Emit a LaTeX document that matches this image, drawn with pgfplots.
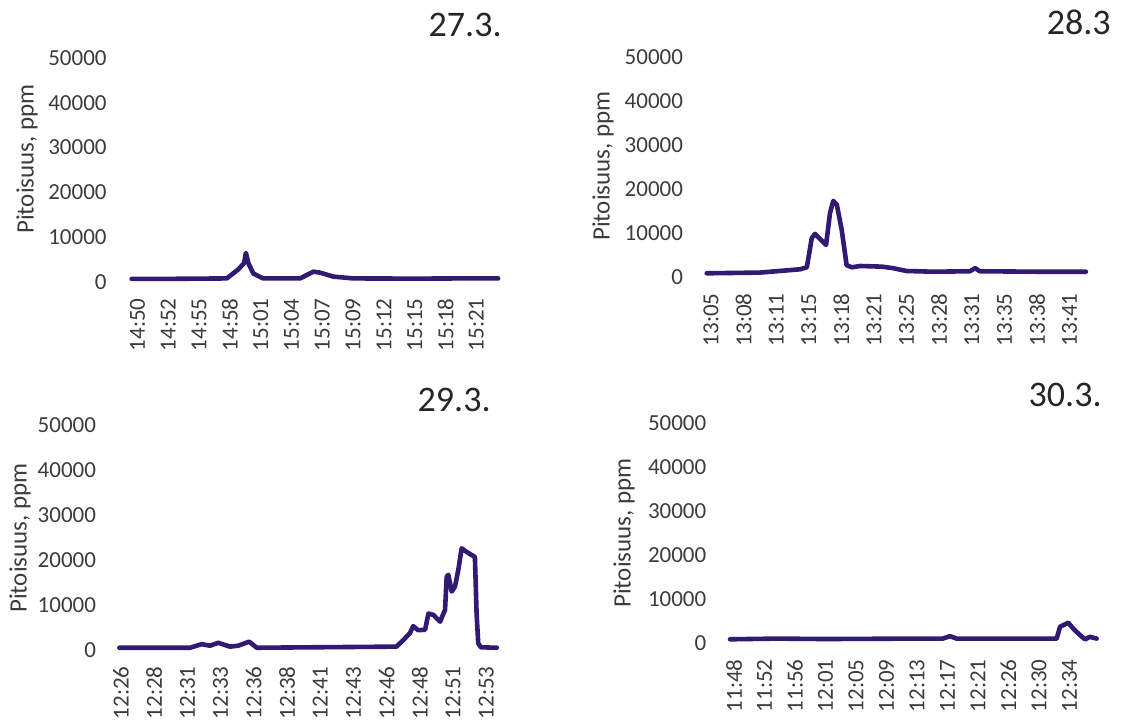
\documentclass[border=0pt]{standalone}
\usepackage{pgfplots}
\pgfplotsset{compat=1.18}
\usepackage{fontspec}
\setmainfont{Carlito}

\definecolor{conc}{RGB}{50,25,115}
\definecolor{txt}{RGB}{60,60,60}

\pgfplotsset{
  panel/.style={
    scale only axis, clip=false, anchor=south west,
    xmin=0, xmax=11, ymin=0, ymax=50000,
    axis line style={draw=none}, major tick length=0pt,
    scaled y ticks=false,
    xtick={0,...,11}, ytick={0,10000,20000,30000,40000,50000},
    yticklabels={0,10000,20000,30000,40000,50000},
    tick label style={font=\fontsize{11.5}{13}\selectfont, text=txt, inner sep=0pt},
    xticklabel style={rotate=90, anchor=east},
    xticklabel shift=8pt,
    yticklabel style={anchor=east},
  },
  conc line/.style={conc, line width=2.3pt, line join=round, line cap=round, no marks},
}

\tikzset{
  daytitle/.style={anchor=base east, inner sep=0pt, font=\fontsize{18}{20}\selectfont, text=black!85},
  ylab/.style={rotate=90, inner sep=0pt, font=\fontsize{12.5}{14}\selectfont, text=txt},
}

\begin{document}
\begin{tikzpicture}
\path[use as bounding box] (0,0) rectangle (560.5pt,361pt);

% 27.3.
\begin{axis}[panel, at={(68.75pt,220pt)}, width=169.4pt, height=112pt,
  yticklabel shift=15.25pt,
  xticklabels={14:50,14:52,14:55,14:58,15:01,15:04,15:07,15:09,15:12,15:15,15:18,15:21}]
\addplot[conc line] coordinates {
(-0.19,700) (1,700) (2,750) (2.90,800) (3.27,2800) (3.46,4200) (3.52,6500)
(3.60,4200) (3.76,1900) (4.08,800) (5.28,800) (5.71,2300) (5.92,2100)
(6.36,1200) (7.01,800) (9,750) (10.5,800) (11.71,800)};
\end{axis}

% 28.3
\begin{axis}[panel, at={(355.5pt,222.5pt)}, width=179.3pt, height=110pt,
  yticklabel shift=13.8pt,
  xticklabels={13:05,13:08,13:11,13:15,13:18,13:21,13:25,13:28,13:31,13:35,13:38,13:41}]
\addplot[conc line] coordinates {
(-0.13,840) (1.5,1000) (2.73,1750) (2.94,2200) (3.09,8800) (3.19,9800)
(3.53,7300) (3.65,14500) (3.75,17300) (3.86,16400) (4.01,10700) (4.16,2700)
(4.32,2200) (4.57,2500) (5.24,2350) (5.59,2000) (6.00,1360) (6.82,1200)
(7.94,1300) (8.10,2000) (8.25,1300) (10,1200) (11.50,1200)};
\end{axis}

% 29.3.
\begin{axis}[panel, at={(60.5pt,36pt)}, width=182.6pt, height=112.5pt,
  yticklabel shift=12.3pt,
  xticklabels={12:26,12:28,12:31,12:33,12:36,12:38,12:41,12:43,12:46,12:48,12:51,12:53}]
\addplot[conc line] coordinates {
(-0.05,500) (2.08,500) (2.43,1300) (2.68,950) (2.93,1600) (3.28,750)
(3.53,950) (3.86,1850) (4.09,500) (8.30,750) (8.50,2200) (8.70,3700)
(8.80,5300) (8.95,4400) (9.16,4500) (9.26,8100) (9.41,7800) (9.61,6300)
(9.76,8900) (9.81,16300) (9.86,16700) (9.96,13000) (10.06,14100) (10.16,17800)
(10.26,22600) (10.41,21800) (10.56,21100) (10.66,20700) (10.71,8200)
(10.76,1500) (10.84,600) (11.32,500)};
\end{axis}

% 30.3.
\begin{axis}[panel, at={(367pt,39.5pt)}, width=167.75pt, height=110pt,
  yticklabel shift=13.65pt,
  xticklabels={11:48,11:52,11:56,12:01,12:05,12:09,12:13,12:17,12:21,12:26,12:30,12:34}]
\addplot[conc line] coordinates {
(-0.13,840) (1.4,1000) (3,900) (5.87,1000) (6.85,1000) (7.08,1550) (7.30,1000)
(10.58,1000) (10.69,3700) (10.96,4600) (11.12,3300) (11.34,1800)
(11.51,840) (11.67,1400) (11.89,1000)};
\end{axis}

\node[daytitle] at (251pt,342.5pt) {27.3.};
\node[daytitle] at (555.5pt,343.5pt) {28.3};
\node[daytitle] at (245.5pt,155pt) {29.3.};
\node[daytitle] at (551pt,157.5pt) {30.3.};

\node[ylab] at (13.5pt,281.5pt) {Pitoisuus, ppm};
\node[ylab] at (301.5pt,278pt) {Pitoisuus, ppm};
\node[ylab] at (10pt,92pt) {Pitoisuus, ppm};
\node[ylab] at (312pt,94.5pt) {Pitoisuus, ppm};
\end{tikzpicture}
\end{document}
